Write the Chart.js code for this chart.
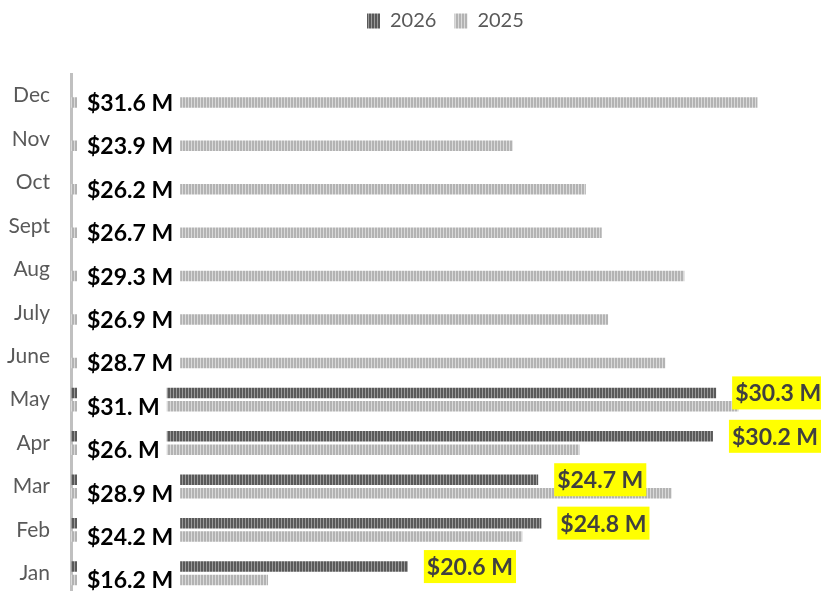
<!DOCTYPE html>
<html>
<head>
<meta charset="utf-8">
<script src="https://cdn.jsdelivr.net/npm/chart.js@4.4.1/dist/chart.umd.min.js"></script>
<style>
  html, body { margin: 0; padding: 0; background: #fff; overflow: hidden; }
  canvas { display: block; }
</style>
</head>
<body>
<canvas id="salesChart" width="821" height="595"></canvas>
<script>
// months, bottom (Jan) to top (Dec)
var months = ['Jan', 'Feb', 'Mar', 'Apr', 'May', 'June', 'July', 'Aug', 'Sept', 'Oct', 'Nov', 'Dec'];
// $ millions
var sales2026 = [20.6, 24.8, 24.7, 30.2, 30.3, null, null, null, null, null, null, null];
var sales2025 = [16.2, 24.2, 28.9, 26.0, 31.0, 28.7, 26.9, 29.3, 26.7, 26.2, 23.9, 31.6];
var seriesNames = ['2026', '2025'];

// the value axis does not start at zero
var axisMin = 10;
var axisMax = 33.6;

function money(v) {
    // keeps the odd "$31. M" look of whole numbers
    return '$' + (Number.isInteger(v) ? v + '.' : v) + ' M';
}

function stripes(a, b) {
    var c = document.createElement('canvas');
    c.width = 3;
    c.height = 1;
    var x = c.getContext('2d');
    x.fillStyle = b;
    x.fillRect(0, 0, 3, 1);
    x.fillStyle = a;
    x.fillRect(0, 0, 2, 1);
    return x.createPattern(c, 'repeat');
}

var legendSpace = {
    id: 'legendSpace',
    beforeInit: function (chart) {
        var fit = chart.legend.fit;
        chart.legend.fit = function () {
            fit.bind(chart.legend)();
            this.height = 74;
        };
    },
    afterUpdate: function (chart) {
        // legend sits a bit right of centre in the original
        var lg = chart.legend;
        lg.left += 349;
        lg.right += 349;
        lg.top -= 7;
        lg.bottom -= 7;
    }
};

var valueLabels = {
    id: 'valueLabels',
    afterDatasetsDraw: function (chart) {
        var ctx = chart.ctx;
        var metaNew = chart.getDatasetMeta(0);
        var metaOld = chart.getDatasetMeta(1);
        var left = chart.chartArea.left;
        ctx.save();
        ctx.textBaseline = 'middle';
        ctx.textAlign = 'left';
        ctx.font = 'bold 23px Lato';

        // 2025: black labels on white boxes at the start of the bars
        metaOld.data.forEach(function (bar, i) {
            var text = money(sales2025[i]);
            var w = ctx.measureText(text).width;
            ctx.fillStyle = '#ffffff';
            ctx.fillRect(left + 6, bar.y - 20, w + 17, 30);
            ctx.fillStyle = '#000000';
            ctx.fillText(text, left + 16, bar.y + 1);
        });

        // 2026: yellow boxed labels after the bar end
        metaNew.data.forEach(function (bar, i) {
            if (sales2026[i] == null) return;
            var text = money(sales2026[i]);
            var w = ctx.measureText(text).width;
            var x0 = bar.x + 16;
            ctx.fillStyle = '#ffff00';
            ctx.fillRect(x0, bar.y - 16.5, w + 6, 33);
            ctx.fillStyle = '#404040';
            ctx.fillText(text, x0 + 3, bar.y + 1);
        });
        ctx.restore();
    }
};

var ctx = document.getElementById('salesChart').getContext('2d');
var chart = new Chart(ctx, {
    type: 'bar',
    data: {
        labels: months,
        datasets: [
            {
                label: seriesNames[0],
                data: sales2026,
                backgroundColor: stripes('#595959', '#9a9a9a'),
                borderWidth: 0,
                categoryPercentage: 0.62,
                barPercentage: 0.78
            },
            {
                label: seriesNames[1],
                data: sales2025,
                backgroundColor: stripes('#b3b3b3', '#dadada'),
                borderWidth: 0,
                categoryPercentage: 0.62,
                barPercentage: 0.78
            }
        ]
    },
    options: {
        indexAxis: 'y',
        responsive: false,
        animation: false,
        layout: { padding: 0 },
        scales: {
            x: {
                display: false,
                min: axisMin,
                max: axisMax
            },
            y: {
                reverse: true,
                grid: { display: false, drawTicks: false },
                border: { display: true, color: '#c0c0c0', width: 3 },
                ticks: {
                    color: '#595959',
                    padding: 21,
                    font: { family: 'Lato', size: 21 }
                },
                afterFit: function (scale) {
                    scale.width = 71;
                    // no extra room for half labels at the ends
                    scale.paddingTop = 0;
                    scale.paddingBottom = 0;
                }
            }
        },
        plugins: {
            legend: {
                position: 'top',
                align: 'start',
                labels: {
                    boxWidth: 13,
                    boxHeight: 15,
                    padding: 18,
                    color: '#595959',
                    font: { family: 'Lato', size: 20 }
                }
            },
            tooltip: { enabled: false }
        }
    },
    plugins: [legendSpace, valueLabels]
});
</script>
</body>
</html>
